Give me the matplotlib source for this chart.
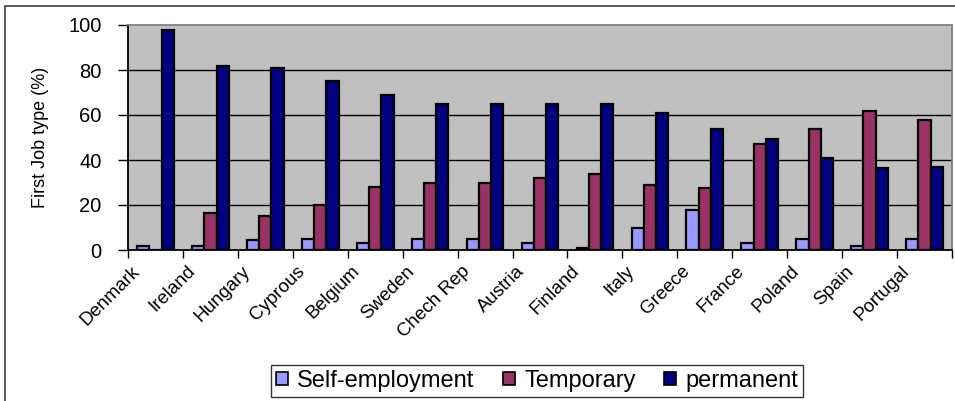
import numpy as np
import matplotlib.pyplot as plt
from matplotlib.patches import Rectangle, Patch
from matplotlib.transforms import ScaledTranslation

# Data
countries = ['Denmark', 'Ireland', 'Hungary', 'Cyprous', 'Belgium', 'Sweden',
             'Chech Rep', 'Austria', 'Finland', 'Italy', 'Greece', 'France',
             'Poland', 'Spain', 'Portugal']
self_employment = [2, 2, 4.5, 5, 3, 5, 5, 3, 0.7, 10, 18, 3, 5, 2, 5]
temporary = [0, 16.5, 15, 20, 28, 30, 30, 32, 34, 29, 27.5, 47, 54, 62, 58]
permanent = [98, 82, 81, 75, 69, 65, 65, 65, 65, 61, 54, 49.5, 41, 36.5, 37]

series_names = ['Self-employment', 'Temporary', 'permanent']
colors = ['#9999FF', '#993366', '#000080']

plt.rcParams['font.family'] = ['Liberation Sans', 'DejaVu Sans']

fig = plt.figure(figsize=(9.55, 4.01), dpi=100)
ax = fig.add_axes([128 / 955, 1 - 250 / 401, (952 - 128) / 955, 225 / 401])

# chart area border (partly outside the image, like the reference)
fig.patches.append(Rectangle((5 / 955, -0.1), 1.2, 1 - 6 / 401 + 0.1,
                             transform=fig.transFigure, fill=False,
                             edgecolor='#404040', lw=1.2, zorder=0))

x = np.arange(len(countries))
w = 1 / 4.5
for i, (vals, c) in enumerate(zip([self_employment, temporary, permanent], colors)):
    ax.bar(x + (i - 1) * w, vals, width=w, color=c, edgecolor='black',
           linewidth=1.6, zorder=3)

ax.set_facecolor('#C0C0C0')
ax.set_xlim(-0.5, len(countries) - 0.5)
ax.set_ylim(0, 100)
ax.set_yticks([0, 20, 40, 60, 80, 100])
ax.tick_params(axis='y', labelsize=14.5, direction='out', length=7, width=1,
               pad=12)
for yv in [20, 40, 60, 80]:
    ax.axhline(yv, color='black', lw=1, zorder=1)

# category ticks between groups, labels at group centres
ax.set_xticks(np.arange(len(countries) + 1) - 0.5)
ax.set_xticklabels([])
ax.set_xticks(x, minor=True)
ax.set_xticklabels(countries, minor=True, rotation=45, ha='right',
                   rotation_mode='anchor', fontsize=13.5)
ax.tick_params(axis='x', which='major', direction='out', length=6, width=1)
ax.tick_params(axis='x', which='minor', length=0, pad=9)
shift = ScaledTranslation(-0.24, 0, fig.dpi_scale_trans)
for lab in ax.get_xticklabels(minor=True):
    lab.set_transform(lab.get_transform() + shift)

ax.spines['left'].set_color('black')
ax.spines['bottom'].set_color('black')
ax.spines['top'].set_color('#808080')
ax.spines['right'].set_color('#808080')
for s in ax.spines.values():
    s.set_linewidth(1.3)

ax.set_ylabel('First Job type (%)', fontsize=13, labelpad=14)

handles = [Patch(facecolor=c, edgecolor='black', lw=1.2) for c in colors]
leg = fig.legend(handles, series_names, loc='center', ncol=3,
                 bbox_to_anchor=(537 / 955, 1 - 381 / 401), fontsize=17,
                 frameon=True, fancybox=False, handlelength=0.5,
                 handleheight=0.5, handletextpad=0.4, columnspacing=1.2,
                 borderpad=0.2, borderaxespad=0)
leg.get_frame().set_edgecolor('black')
leg.get_frame().set_linewidth(1)

fig.savefig('out.png', dpi=100)
